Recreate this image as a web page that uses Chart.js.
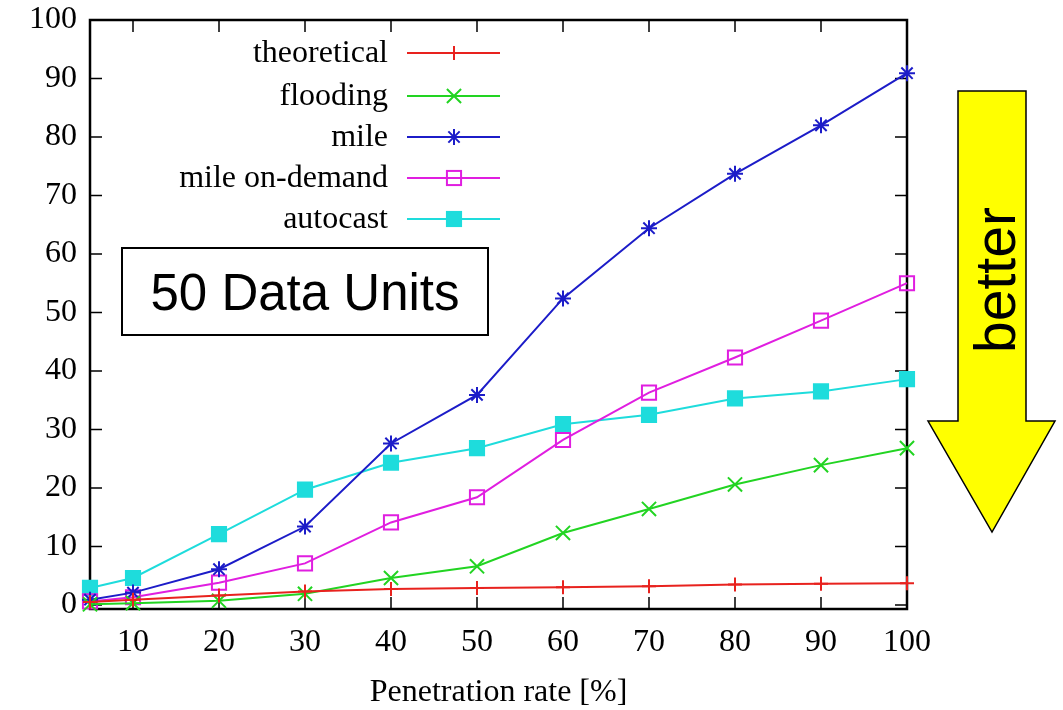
<!DOCTYPE html>
<html>
<head>
<meta charset="utf-8">
<script src="https://cdn.jsdelivr.net/npm/chart.js@4/dist/chart.umd.min.js"></script>
<style>
  html, body { margin: 0; padding: 0; background: #fff; }
  #wrap { width: 1063px; height: 710px; position: relative; }
</style>
</head>
<body>
<div id="wrap"><canvas id="c" width="1063" height="710"></canvas></div>
<script>
// ---- data ----
const xValues = [5, 10, 20, 30, 40, 50, 60, 70, 80, 90, 100];
const theoretical  = [0.5, 0.9, 1.6, 2.3, 2.7, 2.9, 3.0, 3.2, 3.5, 3.6, 3.7];
const flooding     = [0.1, 0.3, 0.7, 1.9, 4.6, 6.6, 12.3, 16.4, 20.6, 23.9, 26.8];
const mile         = [0.9, 2.1, 6.1, 13.4, 27.6, 35.9, 52.4, 64.4, 73.7, 82.0, 90.9];
const mileOnDemand = [0.6, 1.3, 3.8, 7.1, 14.1, 18.4, 28.2, 36.3, 42.3, 48.6, 55.0];
const autocast     = [2.9, 4.6, 12.1, 19.7, 24.3, 26.8, 30.9, 32.5, 35.3, 36.5, 38.6];
const seriesNames  = ['theoretical', 'flooding', 'mile', 'mile on-demand', 'autocast'];
const xTicks = [10, 20, 30, 40, 50, 60, 70, 80, 90, 100];
const yTicks = [0, 10, 20, 30, 40, 50, 60, 70, 80, 90, 100];
const xTitle = 'Penetration rate [%]';
const boxLabel = '50 Data Units';
const arrowLabel = 'better';

const SERIF = '"Liberation Serif", "Times New Roman", serif';
const SANS = '"Liberation Sans", Arial, sans-serif';

const toPts = arr => arr.map((v, i) => ({ x: xValues[i], y: v }));

const styles = [
  { color: '#e8221e', pointStyle: 'cross',    radius: 7,  fill: false },
  { color: '#22d422', pointStyle: 'crossRot', radius: 10, fill: false },
  { color: '#1c1cc8', pointStyle: 'star',     radius: 8,  fill: false },
  { color: '#e01ee0', pointStyle: 'rect',     radius: 10, fill: false },
  { color: '#1edcdc', pointStyle: 'rect',     radius: 10, fill: true  },
];
const seriesData = [theoretical, flooding, mile, mileOnDemand, autocast];

const datasets = seriesData.map((d, i) => ({
  label: seriesNames[i],
  data: toPts(d),
  borderColor: styles[i].color,
  backgroundColor: styles[i].fill ? styles[i].color : 'rgba(0,0,0,0)',
  pointBorderColor: styles[i].color,
  pointBackgroundColor: styles[i].fill ? styles[i].color : 'rgba(0,0,0,0)',
  pointStyle: styles[i].pointStyle,
  pointRadius: styles[i].radius,
  pointHoverRadius: styles[i].radius,
  pointBorderWidth: 2,
  borderWidth: 2,
  tension: 0,
  clip: false,
}));

function drawMarker(ctx, style, x, y, r, color, fill) {
  ctx.save();
  ctx.strokeStyle = color; ctx.fillStyle = color; ctx.lineWidth = 2;
  ctx.beginPath();
  if (style === 'cross') {
    ctx.moveTo(x, y - r); ctx.lineTo(x, y + r);
    ctx.moveTo(x - r, y); ctx.lineTo(x + r, y);
    ctx.stroke();
  } else if (style === 'crossRot') {
    const o = r * Math.SQRT1_2;
    ctx.moveTo(x - o, y - o); ctx.lineTo(x + o, y + o);
    ctx.moveTo(x - o, y + o); ctx.lineTo(x + o, y - o);
    ctx.stroke();
  } else if (style === 'star') {
    const o = r * Math.SQRT1_2;
    ctx.moveTo(x, y - r); ctx.lineTo(x, y + r);
    ctx.moveTo(x - r, y); ctx.lineTo(x + r, y);
    ctx.moveTo(x - o, y - o); ctx.lineTo(x + o, y + o);
    ctx.moveTo(x - o, y + o); ctx.lineTo(x + o, y - o);
    ctx.stroke();
  } else if (style === 'rect') {
    const s = r * Math.SQRT1_2;
    if (fill) ctx.fillRect(x - s, y - s, 2 * s, 2 * s);
    ctx.strokeRect(x - s, y - s, 2 * s, 2 * s);
  }
  ctx.restore();
}

const framePlugin = {
  id: 'frame',
  beforeDatasetsDraw(chart) {
    const { ctx, chartArea: a, scales } = chart;
    ctx.save();
    ctx.strokeStyle = '#000';
    ctx.lineWidth = 1.5;
    const tl = 12;
    ctx.beginPath();
    xTicks.forEach(v => {
      const px = scales.x.getPixelForValue(v);
      ctx.moveTo(px, a.bottom); ctx.lineTo(px, a.bottom - tl);
      ctx.moveTo(px, a.top); ctx.lineTo(px, a.top + tl);
    });
    yTicks.forEach(v => {
      const py = scales.y.getPixelForValue(v);
      ctx.moveTo(a.left, py); ctx.lineTo(a.left + tl, py);
      ctx.moveTo(a.right, py); ctx.lineTo(a.right - tl, py);
    });
    ctx.stroke();
    ctx.lineWidth = 2.5;
    ctx.strokeRect(a.left, a.top, a.right - a.left, a.bottom - a.top);
    ctx.restore();
  },
  afterDraw(chart) {
    const { ctx } = chart;
    ctx.save();
    // legend
    const legY = [53, 96, 137, 178, 219];
    ctx.font = '32px ' + SERIF;
    ctx.fillStyle = '#000';
    ctx.textAlign = 'right';
    ctx.textBaseline = 'middle';
    seriesNames.forEach((n, i) => {
      const y = legY[i];
      ctx.fillText(n, 388, y + 1);
      ctx.strokeStyle = styles[i].color;
      ctx.lineWidth = 2;
      ctx.beginPath(); ctx.moveTo(407, y); ctx.lineTo(500, y); ctx.stroke();
      drawMarker(ctx, styles[i].pointStyle, 454, y, styles[i].radius, styles[i].color, styles[i].fill);
    });
    // text box
    ctx.fillStyle = '#fff';
    ctx.fillRect(122, 248, 366, 87);
    ctx.strokeStyle = '#000'; ctx.lineWidth = 2;
    ctx.strokeRect(122, 248, 366, 87);
    ctx.fillStyle = '#000';
    ctx.font = '51px ' + SANS;
    ctx.textAlign = 'center';
    ctx.textBaseline = 'alphabetic';
    ctx.fillText(boxLabel, 305, 310);
    // arrow
    ctx.beginPath();
    ctx.moveTo(958, 91); ctx.lineTo(1026, 91); ctx.lineTo(1026, 421);
    ctx.lineTo(1055, 421); ctx.lineTo(992, 532); ctx.lineTo(928, 421);
    ctx.lineTo(958, 421); ctx.closePath();
    ctx.fillStyle = '#ffff00'; ctx.fill();
    ctx.strokeStyle = '#000'; ctx.lineWidth = 1.5; ctx.stroke();
    ctx.translate(1015, 280);
    ctx.rotate(-Math.PI / 2);
    ctx.fillStyle = '#000';
    ctx.font = '57px ' + SANS;
    ctx.textAlign = 'center';
    ctx.textBaseline = 'alphabetic';
    ctx.fillText(arrowLabel, 0, 0);
    ctx.restore();
  }
};

new Chart(document.getElementById('c'), {
  type: 'line',
  data: { datasets },
  plugins: [framePlugin],
  options: {
    responsive: false,
    animation: false,
    events: [],
    layout: { padding: { top: 20, right: 156, left: 0, bottom: 0 } },
    plugins: { legend: { display: false }, tooltip: { enabled: false }, title: { display: false } },
    scales: {
      x: {
        type: 'linear',
        min: 5, max: 100,
        afterBuildTicks: s => { s.ticks = xTicks.map(v => ({ value: v })); },
        afterFit: s => { s.height = 101; s.paddingLeft = 0; s.paddingRight = 0; },
        grid: { display: false, drawTicks: false },
        border: { display: false },
        ticks: { font: { family: SERIF, size: 32 }, color: '#000', padding: 14, maxRotation: 0 },
        title: { display: true, text: xTitle, font: { family: SERIF, size: 32 }, color: '#000', padding: { top: 0, bottom: -2 } }
      },
      y: {
        type: 'linear',
        min: -0.7, max: 100,
        afterBuildTicks: s => { s.ticks = yTicks.map(v => ({ value: v })); },
        afterFit: s => { s.width = 90; s.paddingTop = 0; s.paddingBottom = 0; },
        grid: { display: false, drawTicks: false },
        border: { display: false },
        ticks: { font: { family: SERIF, size: 32 }, color: '#000', padding: 13 }
      }
    }
  }
});
</script>
</body>
</html>
